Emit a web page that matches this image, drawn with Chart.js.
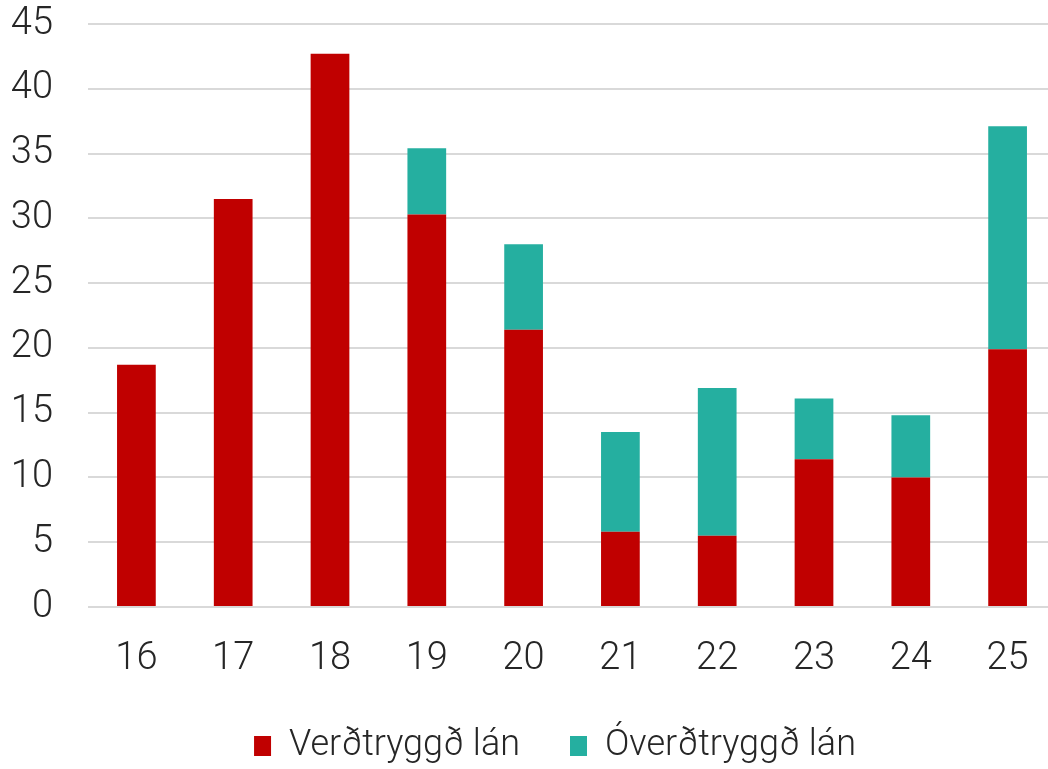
<!DOCTYPE html>
<html>
<head>
<meta charset="utf-8">
<script src="https://cdn.jsdelivr.net/npm/chart.js@4"></script>
<style>
    html, body { margin: 0; padding: 0; background: #fff; overflow: hidden; }
    #wrap { width: 1056px; height: 774px; }
</style>
</head>
<body>
<div id="wrap"><canvas id="grafico"></canvas></div>
<script>
// Dados
const anos = ['16', '17', '18', '19', '20', '21', '22', '23', '24', '25'];
const verdtryggd = [18.7, 31.5, 42.7, 30.3, 21.4, 5.8, 5.5, 11.4, 10.0, 19.9];
const overdtryggd = [null, null, null, 5.1, 6.6, 7.7, 11.4, 4.7, 4.8, 17.2];

const fonte = { family: "'Roboto', sans-serif", size: 38, weight: '300' };
const corTexto = '#262626';

// Empurra a legenda um pouco para a direita (centrada como no original)
const deslocaLegenda = {
    id: 'deslocaLegenda',
    afterLayout(chart) {
        if (chart.legend) chart.legend.left += 44;
    }
};

const ctx = document.getElementById('grafico').getContext('2d');
new Chart(ctx, {
    type: 'bar',
    data: {
        labels: anos,
        datasets: [
            {
                label: 'Verðtryggð lán',
                data: verdtryggd,
                backgroundColor: '#C00000',
                barPercentage: 0.4,
                categoryPercentage: 1
            },
            {
                label: 'Óverðtryggð lán',
                data: overdtryggd,
                backgroundColor: '#25AFA0',
                barPercentage: 0.4,
                categoryPercentage: 1
            }
        ]
    },
    plugins: [deslocaLegenda],
    options: {
        responsive: true,
        maintainAspectRatio: false,
        animation: false,
        layout: { padding: { left: 10, right: 0, top: 24, bottom: 0 } },
        plugins: {
            legend: {
                position: 'bottom',
                labels: {
                    color: corTexto,
                    font: { family: "'Roboto', sans-serif", size: 36, weight: '300' },
                    boxWidth: 17,
                    boxHeight: 20,
                    padding: 50
                }
            },
            tooltip: { enabled: false }
        },
        scales: {
            x: {
                stacked: true,
                grid: { display: false },
                border: { display: false },
                ticks: { color: corTexto, font: fonte, padding: 22 },
                afterFit: (escala) => { escala.height = 71; }
            },
            y: {
                stacked: true,
                min: 0,
                max: 45,
                grid: { color: '#d9d9d9', lineWidth: 2, drawTicks: false },
                border: { display: false },
                ticks: { color: corTexto, font: fonte, stepSize: 5, padding: 35 },
                afterFit: (escala) => {
                    escala.width = 78;
                    escala.paddingTop = 0;
                    escala.paddingBottom = 0;
                }
            }
        }
    }
});
</script>
</body>
</html>
